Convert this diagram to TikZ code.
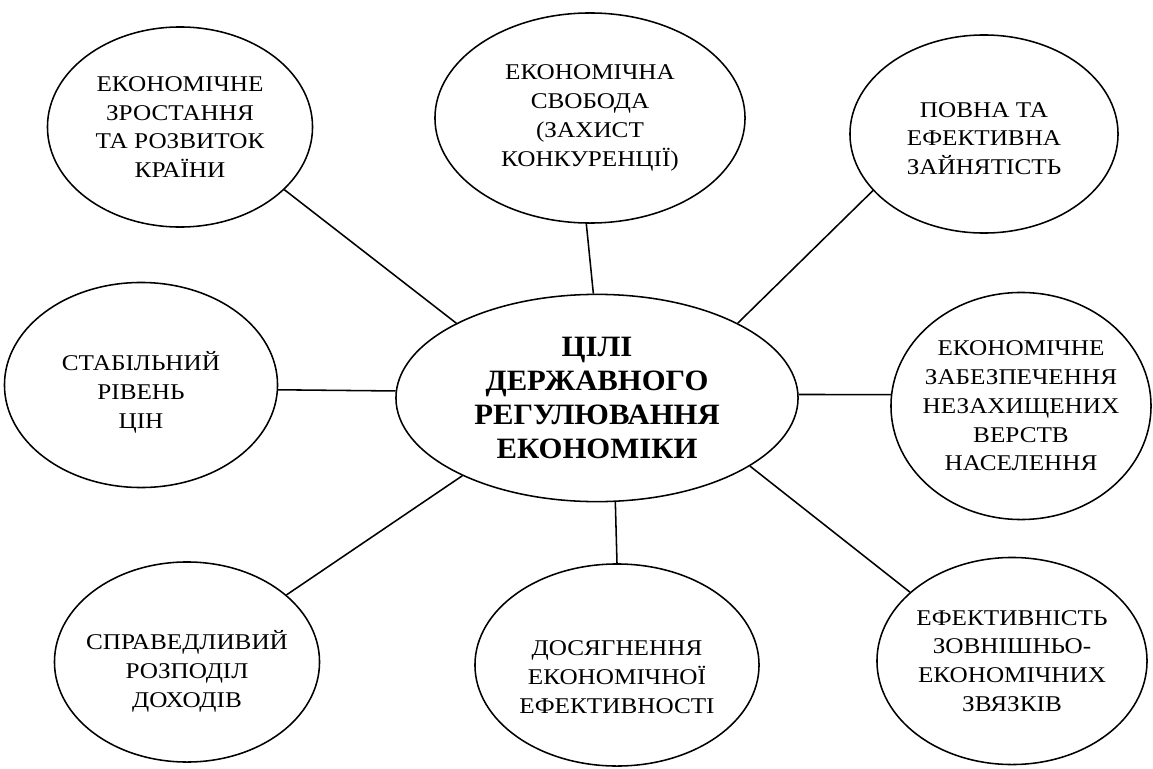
\documentclass[tikz,border=0pt]{standalone}
\usepackage{fontspec}
\setmainfont{Liberation Serif}
\newfontfamily\ovlfont[FakeStretch=1.12]{Liberation Serif}
\newfontfamily\zentrfont[FakeStretch=1.04]{Liberation Serif}
\usetikzlibrary{shapes.geometric}
\begin{document}
\begin{tikzpicture}[x=0.025cm,y=-0.025cm]
			\tikzset{ovl/.style={ellipse, draw=black, line width=1.1pt, inner xsep=-0.8cm, inner ysep=0, align=center, font=\ovlfont\fontsize{16}{20.5}\selectfont},
				zentr/.style={ovl, font=\zentrfont\fontsize{21}{24}\selectfont\bfseries}}
\useasboundingbox (0,0) rectangle (1153,769);

\node[zentr, minimum width=10.05cm, minimum height=5.18cm] at (597, 398) (tsili) {ЦІЛІ\\ДЕРЖАВНОГО\\РЕГУЛЮВАННЯ\\ЕКОНОМІКИ};
\node[ovl, minimum width=6.625cm, minimum height=5.0cm] at (180, 127) (zrost) {ЕКОНОМІЧНЕ\\ЗРОСТАННЯ\\ТА РОЗВИТОК\\КРАЇНИ};
\node[ovl, minimum width=7.75cm, minimum height=5.25cm] at (590, 118) (svoboda) {ЕКОНОМІЧНА\\СВОБОДА\\(ЗАХИСТ\\КОНКУРЕНЦІЇ)};
\node[ovl, minimum width=6.7cm, minimum height=4.95cm] at (984, 134) (zainiat) {\rule{0pt}{17pt}ПОВНА ТА\\ЕФЕКТИВНА\\ЗАЙНЯТІСТЬ};
\node[ovl, minimum width=6.825cm, minimum height=5.125cm] at (141, 385) (tsiny) {\rule{0pt}{24pt}СТАБІЛЬНИЙ\\РІВЕНЬ\\ЦІН};
\node[ovl, minimum width=6.5cm, minimum height=5.675cm] at (1021, 406) (zabezp) {ЕКОНОМІЧНЕ\\ЗАБЕЗПЕЧЕННЯ\\НЕЗАХИЩЕНИХ\\ВЕРСТВ\\НАСЕЛЕННЯ};
\node[ovl, minimum width=6.75cm, minimum height=5.175cm] at (1012, 661) (zvyazky) {ЕФЕКТИВНІСТЬ\\ЗОВНІШНЬО-\\ЕКОНОМІЧНИХ\\ЗВЯЗКІВ};
\node[ovl, minimum width=7.1cm, minimum height=5.05cm] at (617, 665) (efekt) {\rule{0pt}{28pt}ДОСЯГНЕННЯ\\ЕКОНОМІЧНОЇ\\ЕФЕКТИВНОСТІ};
\node[ovl, minimum width=6.625cm, minimum height=5.0cm] at (187, 662) (dokhody) {\rule{0pt}{27pt}СПРАВЕДЛИВИЙ\\РОЗПОДІЛ\\ДОХОДІВ};
			\draw [line width=1.1pt] (tsili.152) -- (zrost.-31);
			\draw [line width=1.1pt] (tsili.92) -- (svoboda.268);
			\draw [line width=1.1pt] (tsili.28) -- (zainiat.207);
			\draw [line width=1.1pt] (tsili.178) -- (tsiny.-2);
			\draw [line width=1.1pt] (tsili.1) -- (zabezp.175);
			\draw [line width=1.1pt] (tsili.-24) -- (zvyazky.146);
			\draw [line width=1.1pt] (tsili.-80) -- (efekt.90);
			\draw [line width=1.1pt] (tsili.210) -- (dokhody.34);
		\end{tikzpicture}
\end{document}
